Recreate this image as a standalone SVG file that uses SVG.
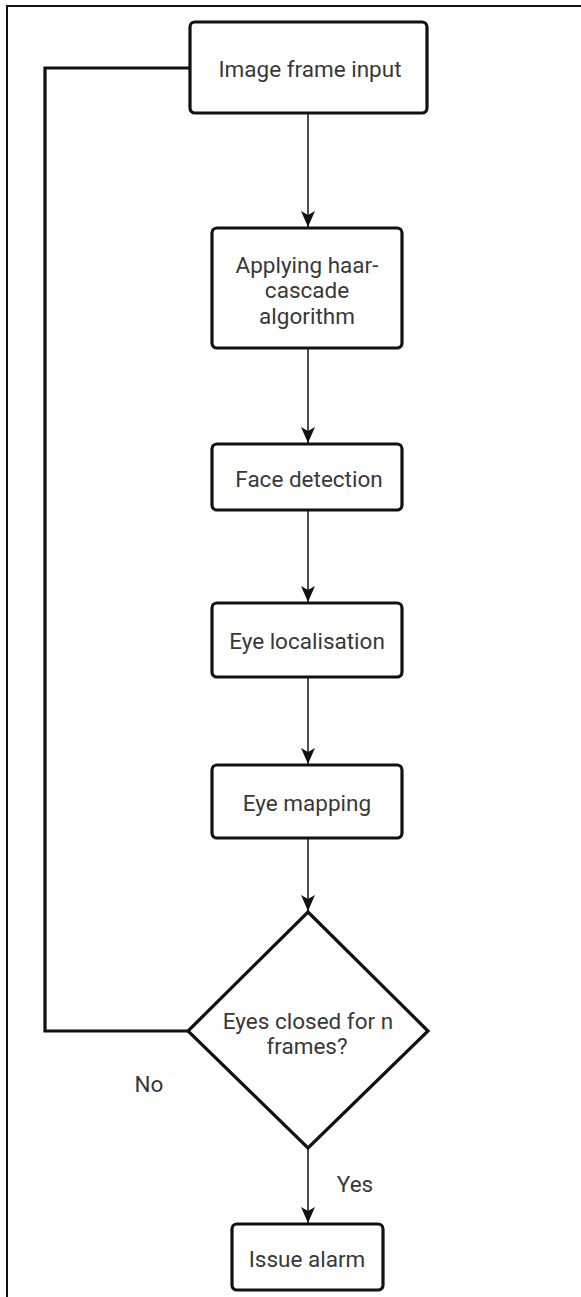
<svg xmlns="http://www.w3.org/2000/svg" width="581" height="1297" viewBox="0 0 581 1297">
  <style>
    .box { fill: #ffffff; stroke: #111111; stroke-width: 3.2; }
    .lbl { font-family: Roboto, "Liberation Sans", sans-serif; font-size: 22.5px; fill: #383838; text-anchor: middle; }
    .edge { fill: none; stroke: #3a3a3a; stroke-width: 1.8; }
    .loop { fill: none; stroke: #111111; stroke-width: 3.2; }
  </style>
  <defs>
    <marker id="arrow" viewBox="0 0 16 14" refX="16" refY="7" markerWidth="16" markerHeight="14" markerUnits="userSpaceOnUse" orient="auto">
      <path d="M0,0 L16,7 L0,14 L4,7 Z" fill="#111111"/>
    </marker>
  </defs>
  <rect width="581" height="1297" fill="#ffffff"/>
  <!-- frame -->
  <path d="M7,1297 V6 H581" fill="none" stroke="#111111" stroke-width="2"/>

  <g id="connectors">
    <line class="edge" x1="308" y1="114" x2="308" y2="227" marker-end="url(#arrow)"/>
    <line class="edge" x1="308" y1="349" x2="308" y2="443" marker-end="url(#arrow)"/>
    <line class="edge" x1="308" y1="511" x2="308" y2="602" marker-end="url(#arrow)"/>
    <line class="edge" x1="308" y1="678" x2="308" y2="764" marker-end="url(#arrow)"/>
    <line class="edge" x1="308" y1="839" x2="308" y2="911" marker-end="url(#arrow)"/>
    <line class="edge" x1="308" y1="1149" x2="308" y2="1223" marker-end="url(#arrow)"/>
    <path class="loop" d="M188,1031 H45 V68 H190"/>
    <text class="lbl" x="149" y="1092">No</text>
    <text class="lbl" x="355" y="1192">Yes</text>
  </g>

  <g id="node-input">
    <rect class="box" x="190" y="22" width="237" height="91" rx="5"/>
    <text class="lbl" x="310" y="77">Image frame input</text>
  </g>
  <g id="node-haar">
    <rect class="box" x="212" y="228" width="190" height="120" rx="5"/>
    <text class="lbl" x="307" y="273">Applying haar-</text>
    <text class="lbl" x="307" y="298">cascade</text>
    <text class="lbl" x="307" y="324">algorithm</text>
  </g>
  <g id="node-face">
    <rect class="box" x="212" y="444" width="190" height="66" rx="5"/>
    <text class="lbl" x="309" y="487">Face detection</text>
  </g>
  <g id="node-eyeloc">
    <rect class="box" x="212" y="603" width="190" height="74" rx="5"/>
    <text class="lbl" x="307" y="649">Eye localisation</text>
  </g>
  <g id="node-eyemap">
    <rect class="box" x="212" y="765" width="190" height="73" rx="5"/>
    <text class="lbl" x="307" y="811">Eye mapping</text>
  </g>
  <g id="node-decision">
    <polygon class="box" points="308,912 428,1031 308,1148 188,1031"/>
    <text class="lbl" x="308" y="1029">Eyes closed for n</text>
    <text class="lbl" x="307" y="1054">frames?</text>
  </g>
  <g id="node-alarm">
    <rect class="box" x="232" y="1224" width="151" height="66" rx="5"/>
    <text class="lbl" x="307" y="1267">Issue alarm</text>
  </g>
</svg>
